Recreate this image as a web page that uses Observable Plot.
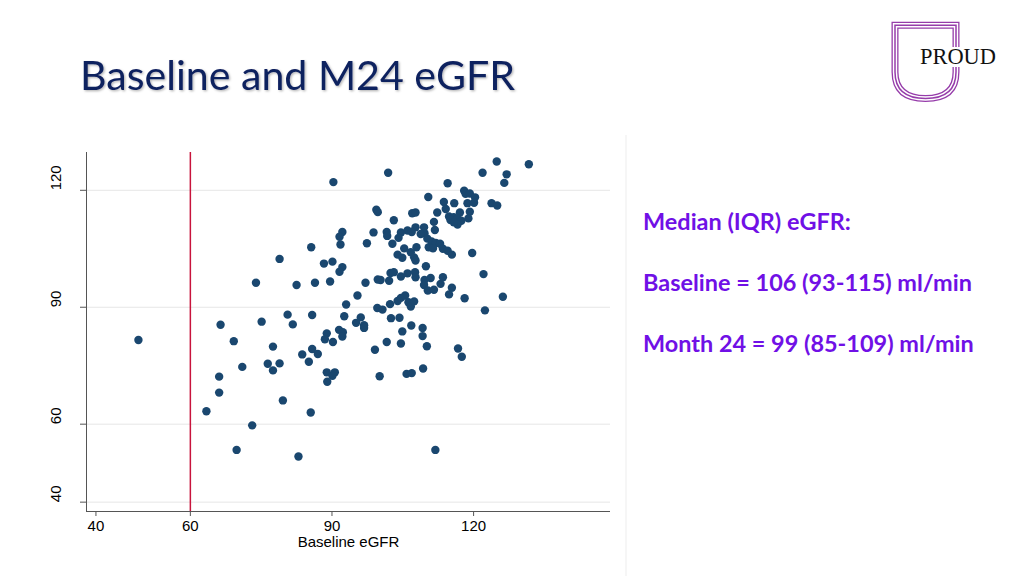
<!DOCTYPE html>
<html>
<head>
<meta charset="utf-8">
<script src="https://cdn.jsdelivr.net/npm/d3@7"></script>
<script src="https://cdn.jsdelivr.net/npm/@observablehq/plot@0.6"></script>
<style>
html,body{margin:0;padding:0;background:#fff;width:1024px;height:576px;overflow:hidden;}
#overlay{position:absolute;left:0;top:0;}
#chart{position:absolute;left:0;top:140px;}
</style>
</head>
<body>
<svg id="overlay" width="1024" height="576">
  <defs>
    <filter id="sh" x="-5%" y="-20%" width="110%" height="140%">
      <feDropShadow dx="1.2" dy="1.2" stdDeviation="0.8" flood-color="#000" flood-opacity="0.3"/>
    </filter>
  </defs>
  <line x1="626" y1="135" x2="626" y2="576" stroke="#ededed" stroke-width="1"/>
  <text id="title" class="fit" data-w="435" x="80" y="90" font-family="Lato, 'Open Sans', sans-serif" font-size="44" fill="#10205e" filter="url(#sh)"></text>
  <text id="t1" class="fit" data-w="208" x="643" y="230" font-family="Lato, 'Open Sans', sans-serif" font-weight="700" font-size="21" fill="#7010e6"></text>
  <text id="t2" class="fit" data-w="329" x="643" y="291" font-family="Lato, 'Open Sans', sans-serif" font-weight="700" font-size="21" fill="#7010e6"></text>
  <text id="t3" class="fit" data-w="331" x="643" y="352" font-family="Lato, 'Open Sans', sans-serif" font-weight="700" font-size="21" fill="#7010e6"></text>
  <g fill="none">
    <path d="M956 47 V25.3 H895 V72 Q895 98.5 925.5 98.5 Q956 98.5 956 72 V67" stroke="#963caa" stroke-width="7"/>
    <path d="M956 47 V25.3 H895 V72 Q895 98.5 925.5 98.5 Q956 98.5 956 72 V67" stroke="#fff" stroke-width="4.4"/>
    <path d="M956 47 V25.3 H895 V72 Q895 98.5 925.5 98.5 Q956 98.5 956 72 V67" stroke="#963caa" stroke-width="1.5"/>
  </g>
  <text id="logo" class="fit" data-w="76" x="920" y="63.5" font-family="'Liberation Serif', 'DejaVu Serif', serif" font-size="22" fill="#111">PROUD</text>
</svg>
<div id="chart"></div>
<script>
// ---- data ----
const baselineEGFR = [124.9,131.7,121.9,127.0,126.5,114.5,101.9,90.3,118.0,118.3,119.2,120.3,110.4,113.7,115.9,118.7,120.1,123.8,125.0,114.1,112.3,117.1,119.2,114.8,115.8,115.1,116.6,117.4,118.9,116.6,115.8,111.6,111.8,109.5,109.6,108.8,107.7,99.4,99.7,107.0,107.7,103.1,92.2,91.6,98.8,101.6,101.7,104.6,104.1,106.0,106.9,85.6,91.8,97.4,102.8,105.3,107.9,110.2,111.1,112.0,112.9,110.5,111.4,113.5,114.5,115.4,119.7,103.9,104.9,106.7,107.4,107.7,109.9,78.9,88.3,90.1,92.2,91.6,86.4,89.6,97.1,99.7,100.3,102.1,102.4,103.1,104.6,106.0,107.6,107.7,109.6,110.9,109.5,110.3,111.6,113.0,113.5,115.4,114.8,118.1,122.1,126.2,122.4,73.9,82.5,95.4,93.0,85.8,92.6,99.6,100.7,102.3,103.9,104.6,105.5,106.2,106.7,107.4,96.1,95.1,96.8,96.8,102.5,104.3,106.8,104.9,109.2,109.2,110.1,88.9,88.5,91.5,92.3,92.2,90.2,101.6,104.6,99.1,85.8,87.0,83.7,85.1,88.9,90.6,90.1,89.0,100.1,105.8,106.9,109.3,116.7,117.5,85.5,111.9,82.9,80.6,66.4,75.1,81.7,49.0,69.2,77.5,71.0,76.4,77.5,78.9,66.1,66.1,63.4,79.6,73.1,69.8];
const month24EGFR = [127.4,126.7,124.5,124.1,121.9,121.8,124.5,122.1,119.9,119.1,119.2,118.2,118.3,117.0,116.7,116.7,116.8,116.7,116.1,115.2,114.3,114.3,114.5,113.3,113.1,112.4,112.7,112.2,112.8,111.2,111.8,111.9,109.8,110.5,109.0,108.8,110.5,115.0,114.4,114.1,114.3,112.3,109.3,108.1,109.2,109.3,108.3,109.2,107.8,109.7,109.3,105.4,106.1,106.4,106.3,105.1,105.4,107.6,106.9,106.5,106.3,105.4,105.1,105.0,104.5,103.5,103.9,103.5,102.7,104.1,102.8,102.0,100.5,102.4,101.2,101.7,100.3,99.1,96.3,96.6,96.3,97.1,97.0,96.8,98.8,99.0,97.9,98.7,99.0,97.7,97.0,97.5,95.7,94.3,94.5,96.0,97.7,95.0,93.3,92.3,98.5,92.7,89.2,96.3,95.7,93.0,90.7,88.0,87.7,89.8,89.4,90.8,91.6,92.4,93.0,91.3,90.2,91.5,87.4,86.0,85.4,84.7,87.2,87.3,85.3,83.8,84.7,82.6,80.0,83.3,81.8,84.2,83.6,82.5,81.1,81.1,80.7,79.1,79.3,78.0,77.9,76.0,73.3,73.3,72.4,70.9,72.3,72.9,73.1,74.3,79.4,77.3,63.0,53.4,51.7,88.1,85.5,86.3,85.6,81.6,81.3,79.9,74.7,75.5,73.8,75.6,72.2,68.1,63.3,66.1,59.7,53.4];
const xTicks = [40, 60, 90, 120];
const yTicks = [40, 60, 90, 120];
const cutoff = [60];
const xTitle = "Baseline eGFR";
const titleText = "Baseline and M24 eGFR";
const noteLines = ["Median (IQR) eGFR:", "Baseline = 106 (93-115) ml/min", "Month 24 = 99 (85-109) ml/min"];

const points = baselineEGFR.map((b, i) => ({baseline: b, m24: month24EGFR[i]}));

const chart = Plot.plot({
  width: 640,
  height: 420,
  marginLeft: 86,
  marginRight: 30,
  marginTop: 12,
  marginBottom: 49,
  style: {fontFamily: "'Liberation Sans', Arial, sans-serif", fontSize: "15px", color: "#000", background: "transparent"},
  x: {domain: [38, 149]},
  y: {domain: [37.6, 129.7]},
  marks: [
    Plot.gridY(yTicks, {stroke: "#e6e6e6", strokeOpacity: 1}),
    Plot.ruleX(cutoff, {stroke: "#c8143c", strokeWidth: 1.5}),
    Plot.ruleX([38], {stroke: "#555"}),
    Plot.ruleY([37.6], {stroke: "#555"}),
    Plot.axisX({ticks: xTicks, tickSize: 5, tickFormat: () => "", label: null, stroke: "#555"}),
    Plot.axisY({ticks: yTicks, tickSize: 6, tickFormat: () => "", label: null, stroke: "#555"}),
    Plot.text(xTicks, {x: d => d, frameAnchor: "bottom", dy: 19, fontSize: 15, fill: "#000"}),
    Plot.text(yTicks, {y: d => d, frameAnchor: "left", dx: -30, rotate: -90, fontSize: 15, fill: "#000"}),
    Plot.text([xTitle], {frameAnchor: "bottom", dy: 35, fontSize: 15, fill: "#000"}),
    Plot.dot(points, {x: "baseline", y: "m24", r: 4.2, fill: "#1a476f"})
  ]
});
document.getElementById("chart").appendChild(chart);

document.getElementById("title").textContent = titleText;
document.getElementById("t1").textContent = noteLines[0];
document.getElementById("t2").textContent = noteLines[1];
document.getElementById("t3").textContent = noteLines[2];

function fitAll() {
  document.querySelectorAll("#overlay text.fit").forEach(el => {
    if (!el.dataset.fs) el.dataset.fs = el.getAttribute("font-size");
    const fs = +el.dataset.fs;
    el.setAttribute("font-size", fs);
    const w = el.getComputedTextLength();
    if (w > 0) el.setAttribute("font-size", (fs * (+el.dataset.w) / w).toFixed(2));
  });
}
fitAll();
if (document.fonts && document.fonts.ready) document.fonts.ready.then(fitAll);
</script>
</body>
</html>
